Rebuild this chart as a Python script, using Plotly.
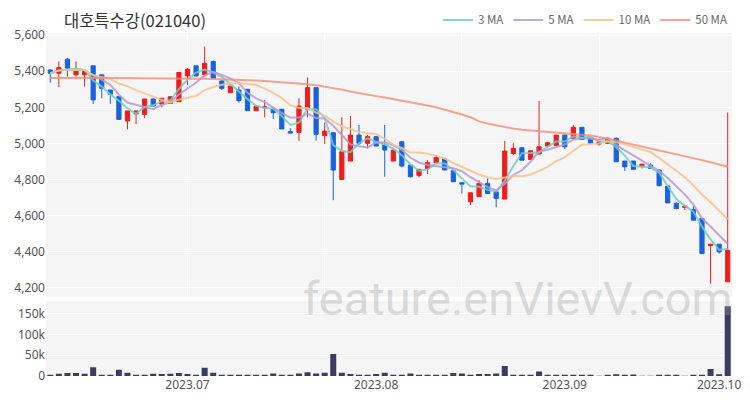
import pandas as pd
import plotly.graph_objects as go
from plotly.subplots import make_subplots

title_text = "대호특수강(021040)"

holidays = ["2023-08-15", "2023-09-28", "2023-09-29", "2023-10-02", "2023-10-03"]
dates = [d.strftime("%Y-%m-%d") for d in pd.bdate_range("2023-06-09", "2023-10-05")
         if d.strftime("%Y-%m-%d") not in holidays]

opens = [5407, 5389, 5467, 5380, 5380, 5430, 5380, 5296, 5259, 5124,
         5163, 5161, 5246, 5218, 5222, 5231, 5374, 5430, 5380, 5454,
         5346, 5281, 5296, 5300, 5181, 5198, 5189, 5189, 5065, 5061,
         5189, 5309, 5043, 5059, 4800, 4902, 5046, 5000, 5037, 4991,
         4902, 5009, 4880, 4822, 4861, 4893, 4913, 4848, 4782, 4676,
         4704, 4778, 4731, 4691, 4944, 4976, 4911, 4941, 4985, 4987,
         5046, 5028, 5089, 5028, 4996, 5000, 5028, 4902, 4902, 4874,
         4880, 4852, 4763, 4667, 4645, 4633, 4583, 4433, 4441, 4232]
highs = [5410, 5454, 5472, 5454, 5407, 5430, 5380, 5296, 5259, 5180,
         5180, 5246, 5250, 5250, 5259, 5393, 5417, 5430, 5537, 5460,
         5352, 5318, 5315, 5300, 5207, 5241, 5189, 5189, 5085, 5250,
         5365, 5309, 5115, 5059, 5144, 5152, 5102, 5046, 5041, 5102,
         4963, 5009, 4880, 4856, 4907, 4935, 4913, 4848, 4782, 4726,
         4796, 4806, 4731, 5013, 5000, 4976, 4959, 5235, 5004, 5046,
         5046, 5102, 5089, 5028, 5009, 5028, 5033, 4902, 4902, 4885,
         4889, 4856, 4763, 4676, 4652, 4652, 4583, 4441, 4441, 5171]
lows = [5337, 5311, 5370, 5370, 5315, 5219, 5250, 5219, 5130, 5078,
        5106, 5139, 5207, 5200, 5222, 5231, 5324, 5370, 5380, 5361,
        5296, 5281, 5226, 5181, 5181, 5144, 5135, 5080, 5057, 5015,
        5144, 5015, 4996, 4685, 4800, 4902, 4991, 4972, 4985, 4815,
        4902, 4867, 4811, 4811, 4830, 4893, 4852, 4787, 4722, 4657,
        4704, 4722, 4645, 4691, 4935, 4907, 4911, 4941, 4985, 4987,
        4968, 5028, 5022, 5000, 4987, 5000, 4898, 4848, 4856, 4861,
        4861, 4765, 4670, 4634, 4630, 4574, 4389, 4222, 4389, 4232]
closes = [5389, 5420, 5417, 5407, 5398, 5241, 5305, 5272, 5133, 5180,
          5180, 5246, 5207, 5250, 5259, 5393, 5411, 5374, 5444, 5361,
          5305, 5318, 5237, 5181, 5207, 5202, 5170, 5080, 5057, 5207,
          5309, 5050, 5068, 4852, 4954, 5046, 5000, 5037, 4985, 4963,
          4963, 4874, 4815, 4856, 4893, 4922, 4852, 4787, 4774, 4726,
          4778, 4722, 4695, 4957, 4972, 4907, 4959, 4981, 5004, 5046,
          4981, 5089, 5022, 5000, 5009, 5028, 4898, 4870, 4856, 4885,
          4861, 4765, 4670, 4639, 4652, 4574, 4389, 4441, 4398, 4407]
volumes = [2000, 5500, 7000, 7000, 5500, 21000, 2000, 2000, 15000, 8000,
           1500, 1500, 5500, 5000, 5500, 7000, 5000, 2000, 20000, 8000,
           2000, 2000, 2000, 2000, 2000, 2500, 6000, 3000, 3000, 6000,
           9000, 6000, 8000, 53000, 8000, 5000, 3000, 2000, 5000, 8000,
           3000, 1000, 6000, 2000, 2000, 2000, 2000, 7000, 6000, 3000,
           5000, 5000, 6000, 24000, 2000, 2000, 2000, 11000, 2500, 2500,
           2500, 2000, 2000, 1500, 500, 1500, 4000, 2500, 3500, 500,
           500, 3000, 2500, 1500, 500, 1000, 1500, 17000, 4000, 168000]
ma50 = [5362, 5363, 5363, 5364, 5364, 5364, 5364, 5363, 5363, 5362,
        5361, 5361, 5360, 5360, 5359, 5359, 5359, 5359, 5358, 5357,
        5356, 5354, 5352, 5350, 5348, 5346, 5343, 5340, 5336, 5332,
        5328, 5322, 5315, 5307, 5298, 5288, 5278, 5270, 5262, 5254,
        5246, 5238, 5229, 5220, 5210, 5200, 5188, 5175, 5160, 5145,
        5122, 5110, 5100, 5090, 5082, 5076, 5072, 5068, 5064, 5061,
        5058, 5054, 5049, 5043, 5036, 5027, 5016, 5004, 4992, 4981,
        4970, 4960, 4950, 4940, 4930, 4919, 4907, 4895, 4882, 4870]

ma_names = ["3 MA", "5 MA", "10 MA", "50 MA"]
ma_colors = ["rgba(110,205,200,0.85)", "rgba(180,155,210,0.85)",
             "rgba(245,195,140,0.85)", "rgba(245,140,120,0.8)"]
tick_idx = [16, 38, 60, 78]
tick_labels = ["2023.07", "2023.08", "2023.09", "2023.10"]
price_ticks = [4200, 4400, 4600, 4800, 5000, 5200, 5400, 5600]
vol_ticks = [0, 50000, 100000, 150000]

close_s = pd.Series(closes)
ma_series = [close_s.rolling(3, min_periods=1).mean(),
             close_s.rolling(5, min_periods=1).mean(),
             close_s.rolling(10, min_periods=1).mean(),
             pd.Series(ma50)]

fig = make_subplots(rows=2, cols=1, shared_xaxes=True, vertical_spacing=0.012,
                    row_heights=[0.778, 0.222])

UP = "#ee1d1d"
DOWN = "#1a62dc"

fig.add_trace(go.Candlestick(x=dates, open=opens, high=highs, low=lows, close=closes,
                             increasing=dict(line=dict(color=UP, width=1), fillcolor=UP),
                             decreasing=dict(line=dict(color=DOWN, width=1), fillcolor=DOWN),
                             whiskerwidth=0, showlegend=False, hoverinfo="skip"),
              row=1, col=1)

for name, col, s in zip(ma_names, ma_colors, ma_series):
    fig.add_trace(go.Scatter(x=dates, y=s, mode="lines", name=name,
                             line=dict(color=col, width=2), hoverinfo="skip"),
                  row=1, col=1)

fig.add_trace(go.Bar(x=dates, y=volumes, marker=dict(color="#3c3c5e", line=dict(width=0)),
                     showlegend=False, hoverinfo="skip"), row=2, col=1)

grid_x_idx = [16, 32, 48, 64]
axis_font = dict(family="Noto Sans, Roboto, sans-serif", size=12, color="#555555")

fig.update_layout(
    width=742, height=392,
    margin=dict(l=38, r=18, t=25, b=24, autoexpand=False),
    paper_bgcolor="white", plot_bgcolor="#f5f5f5",
    font=dict(family="Noto Sans CJK KR, Noto Sans, sans-serif", color="#555555"),
    bargap=0.3,
    legend=dict(orientation="h", x=1.0, xanchor="right", y=1.038, yanchor="middle",
                font=dict(size=11.5, color="#666666"), bgcolor="rgba(0,0,0,0)",
                itemwidth=30),
    xaxis_rangeslider_visible=False,
)

fig.update_xaxes(type="category", range=[-0.5, len(dates) - 0.5], showline=False,
                 zeroline=False, gridcolor="#ffffff", gridwidth=1, ticks="")
fig.update_xaxes(tickmode="array", tickvals=[dates[i] for i in grid_x_idx],
                 showticklabels=False, row=1, col=1)
fig.update_xaxes(tickmode="array", tickvals=[dates[i] for i in tick_idx],
                 ticktext=tick_labels, showticklabels=True, tickfont=axis_font,
                 showgrid=False, row=2, col=1)

fig.update_yaxes(range=[4150, 5612], tickvals=price_ticks, tickformat=",",
                 tickfont=axis_font, gridcolor="#ffffff", zeroline=False,
                 showline=False, ticks="", row=1, col=1)
fig.update_yaxes(range=[0, 181000], tickvals=vol_ticks, tickformat="~s",
                 tickfont=axis_font, gridcolor="#ffffff", zeroline=False,
                 showline=False, ticks="", row=2, col=1)

fig.add_annotation(text=title_text, xref="paper", yref="paper", x=0.024, y=1.038,
                   xanchor="left", yanchor="middle", showarrow=False,
                   font=dict(size=16.5, color="#333333",
                             family="Noto Sans CJK KR, Noto Sans, sans-serif"))
fig.add_annotation(text="feature.enVievV.com", xref="paper", yref="paper",
                   x=0.688, y=0.225, xanchor="center", yanchor="middle", showarrow=False,
                   font=dict(size=47, color="rgba(160,160,160,0.36)",
                             family="Roboto, Noto Sans, sans-serif"))

fig.write_html("out.html")
